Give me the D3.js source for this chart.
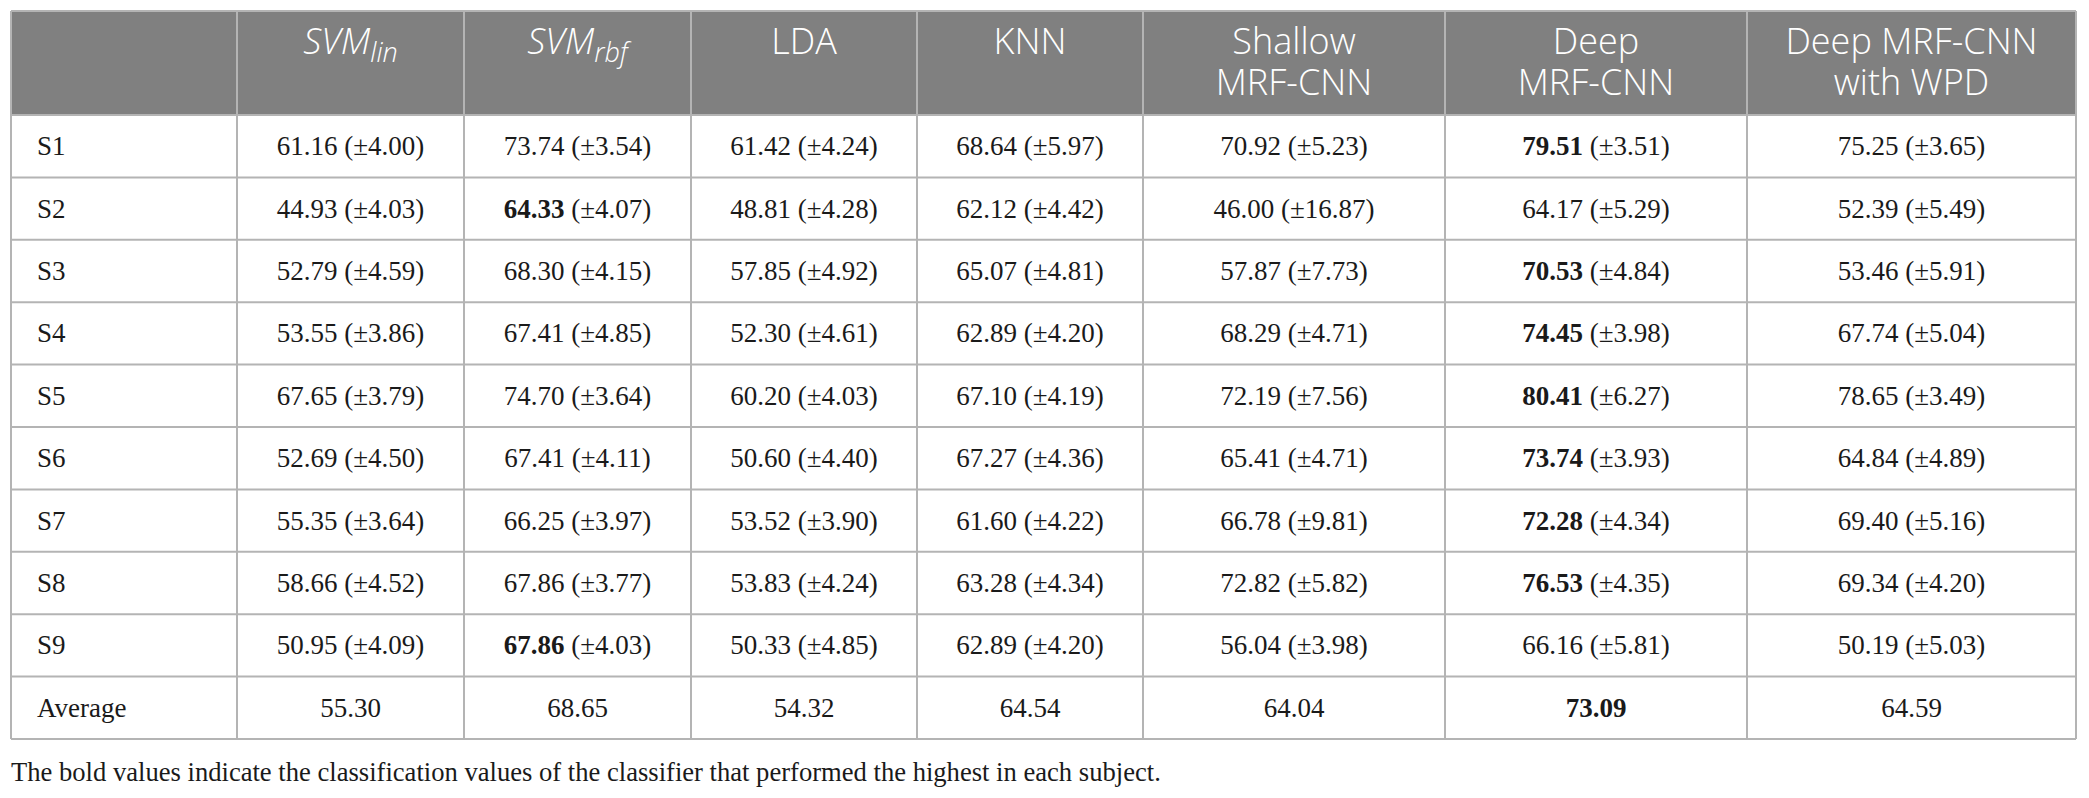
<!DOCTYPE html>
<html><head><meta charset="utf-8">
<script src="https://cdn.jsdelivr.net/npm/d3@7/dist/d3.min.js"></script>
<style>body{margin:0;background:#fff;} svg{display:block;}</style>
</head><body>
<svg id="c" width="2089" height="798"></svg>
<script>
const rowLabels = ["S1","S2","S3","S4","S5","S6","S7","S8","S9","Average"];
const headers = [
  [],
  [{t:"SVM",sub:"lin"}],
  [{t:"SVM",sub:"rbf"}],
  ["LDA"],
  ["KNN"],
  ["Shallow","MRF-CNN"],
  ["Deep","MRF-CNN"],
  ["Deep MRF-CNN","with WPD"]
];
const svmLin   = [61.16,44.93,52.79,53.55,67.65,52.69,55.35,58.66,50.95,55.30];
const svmLinSd = [4.00,4.03,4.59,3.86,3.79,4.50,3.64,4.52,4.09,null];
const svmRbf   = [73.74,64.33,68.30,67.41,74.70,67.41,66.25,67.86,67.86,68.65];
const svmRbfSd = [3.54,4.07,4.15,4.85,3.64,4.11,3.97,3.77,4.03,null];
const lda      = [61.42,48.81,57.85,52.30,60.20,50.60,53.52,53.83,50.33,54.32];
const ldaSd    = [4.24,4.28,4.92,4.61,4.03,4.40,3.90,4.24,4.85,null];
const knn      = [68.64,62.12,65.07,62.89,67.10,67.27,61.60,63.28,62.89,64.54];
const knnSd    = [5.97,4.42,4.81,4.20,4.19,4.36,4.22,4.34,4.20,null];
const shallow  = [70.92,46.00,57.87,68.29,72.19,65.41,66.78,72.82,56.04,64.04];
const shallowSd= [5.23,16.87,7.73,4.71,7.56,4.71,9.81,5.82,3.98,null];
const deep     = [79.51,64.17,70.53,74.45,80.41,73.74,72.28,76.53,66.16,73.09];
const deepSd   = [3.51,5.29,4.84,3.98,6.27,3.93,4.34,4.35,5.81,null];
const wpd      = [75.25,52.39,53.46,67.74,78.65,64.84,69.40,69.34,50.19,64.59];
const wpdSd    = [3.65,5.49,5.91,5.04,3.49,4.89,5.16,4.20,5.03,null];
// bold flags: [row, value-column index]
const boldCells = [[0,5],[1,1],[2,5],[3,5],[4,5],[5,5],[6,5],[7,5],[8,1],[9,5]];
const footnote = "The bold values indicate the classification values of the classifier that performed the highest in each subject.";

const series = [[svmLin,svmLinSd],[svmRbf,svmRbfSd],[lda,ldaSd],[knn,knnSd],[shallow,shallowSd],[deep,deepSd],[wpd,wpdSd]];

// layout
const colEdges = [11,237,464,691,917,1143,1445,1747,2076];
const tTop = 11, headerBottom = 115, tableBottom = 739;
const border = "#b4b4b4", headBg = "#808080";
const serif = "'Liberation Serif','Times New Roman',serif";
const sans = "'Open Sans','Noto Sans',sans-serif";
const cellSize = 27, headSize = 36;

const svg = d3.select("#c");
const y = d3.scaleBand().domain(d3.range(rowLabels.length)).range([headerBottom, tableBottom]);
const xc = i => (colEdges[i]+colEdges[i+1])/2;

svg.append("rect").attr("x",colEdges[0]).attr("y",tTop).attr("width",colEdges[8]-colEdges[0]).attr("height",headerBottom-tTop).attr("fill",headBg);

headers.forEach((lines,ci)=>{
  lines.forEach((ln,li)=>{
    const t = svg.append("text").attr("x",xc(ci)).attr("y",54+li*41)
      .attr("text-anchor","middle").attr("fill","#fff")
      .attr("font-family",sans).attr("font-weight",300).attr("font-size",headSize);
    if (typeof ln === "string") t.text(ln);
    else {
      t.append("tspan").attr("font-style","italic").text(ln.t);
      t.append("tspan").attr("font-style","italic").attr("font-size",27).attr("dy",8).text(ln.sub);
    }
  });
});

const g = svg.append("g").attr("stroke",border).attr("stroke-width",2).attr("fill","none");
const hLines = [tTop, headerBottom].concat(d3.range(rowLabels.length).map(i=>y(i)+y.bandwidth()));
hLines.forEach(yy=>g.append("line").attr("x1",colEdges[0]).attr("x2",colEdges[8]).attr("y1",yy).attr("y2",yy));
colEdges.forEach(xx=>g.append("line").attr("x1",xx).attr("x2",xx).attr("y1",tTop).attr("y2",tableBottom));

const isBold = (r,c)=>boldCells.some(d=>d[0]===r&&d[1]===c);
rowLabels.forEach((lab,ri)=>{
  svg.append("text").attr("x",37).attr("y",y(ri)+y.bandwidth()/2).attr("dy","0.33em")
    .attr("font-family",serif).attr("font-size",cellSize).attr("fill","#1a1a1a").text(lab);
});
series.forEach(([vals,sds],si)=>{
  const ci = si+1;
  vals.forEach((v,ri)=>{
    const t = svg.append("text").attr("x",xc(ci)).attr("y",y(ri)+y.bandwidth()/2).attr("dy","0.33em")
      .attr("text-anchor","middle").attr("font-family",serif).attr("font-size",cellSize).attr("fill","#1a1a1a");
    t.append("tspan").attr("font-weight",isBold(ri,si)?"bold":"normal").text(v.toFixed(2));
    if (sds[ri]!=null) t.append("tspan").text(" (\u00b1"+sds[ri].toFixed(2)+")");
  });
});

svg.append("text").attr("x",11).attr("y",781).attr("font-family",serif).attr("font-size",26.6).attr("fill","#1a1a1a").text(footnote);
</script>
</body></html>
